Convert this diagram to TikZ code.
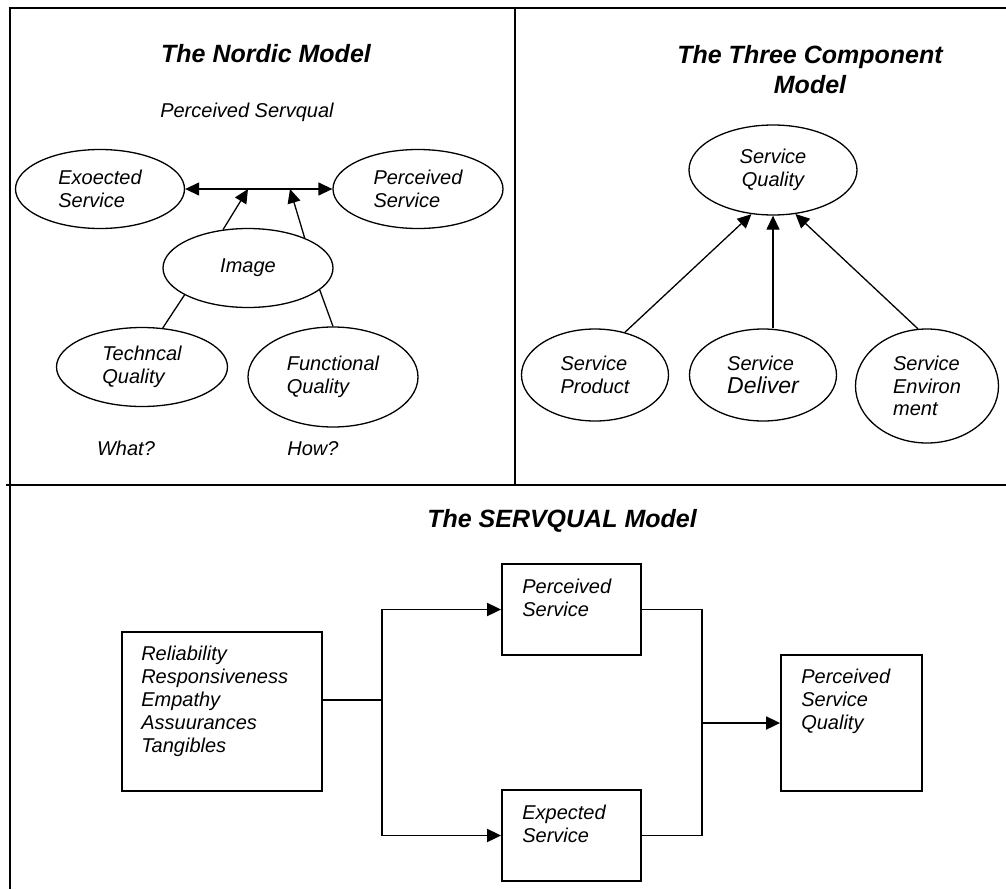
\documentclass[tikz,border=0pt]{standalone}
\usepackage{fontspec}
\setmainfont{Liberation Sans}
\usetikzlibrary{arrows.meta,shapes.geometric}

\tikzset{
  hd/.tip={Triangle[length=14pt,width=13pt]},
  lbl/.style={font=\fontsize{20}{23}\selectfont\itshape, inner sep=0pt},
  ttl/.style={font=\fontsize{25}{30}\selectfont\bfseries\itshape, inner sep=0pt, align=center},
  oval/.style={ellipse, draw, line width=1.3pt, inner sep=0pt, align=left,
               font=\fontsize{20}{22.5}\selectfont\itshape},
  box/.style={rectangle, draw, line width=1.8pt, inner sep=0pt},
  arr/.style={line width=1.3pt, -{hd}},
  link/.style={line width=1.3pt},
  conn/.style={line width=1.8pt},
  rule/.style={line width=2.6pt},
}

\begin{document}
\begin{tikzpicture}[x=1pt,y=-1pt]
  \fill[white] (0,0) rectangle (1006,889);
  \useasboundingbox (0,0) rectangle (1006,889);

  % panel frame
  \draw[rule] (8.9,8) -- (1006,8);
  \draw[line width=2.2pt] (10,7) -- (10,889);
  \draw[line width=1.8pt] (515,8) -- (515,485);
  \draw[rule] (6,485) -- (1006,485);

  % ---------------- Nordic model ----------------
  \node[ttl] (nordic) at (266,54) {The Nordic Model};
  \node[lbl, anchor=base] (pservq) at (247,117) {Perceived Servqual};

  \node[oval, minimum width=169pt, minimum height=79pt] (exs) at (100,189) {Exoected\\Service};
  \node[oval, minimum width=170pt, minimum height=79pt] (pcs) at (418,189) {Perceived\\Service};
  \node[oval, minimum width=170pt, minimum height=79pt] (img) at (248,268) {Image};
  \node[oval, minimum width=171pt, minimum height=79pt] (tq) at (142,367) {Techncal\\Quality};
  \node[oval, minimum width=170pt, minimum height=100pt] (fq) at (333,377) {Functional\\Quality};

  \node[lbl, anchor=base] (what) at (126,455) {What?};
  \node[lbl, anchor=base] (how) at (313,455) {How?};

  \draw[link, {hd}-{hd}] (exs.east) -- (pcs.west);
  \coordinate (t1) at (248,189);
  \coordinate (t2) at (290,189);
  \draw[arr] (img.123) -- (t1);
  \draw[arr] (img.28) -- (t2);
  \draw[link] (tq.62) -- (img.203);
  \draw[link] (fq.north) -- (img.343);

  % ---------------- Three component model ----------------
  \node[ttl] (three) at (810,70) {The Three Component\\Model};

  \node[oval, align=center, minimum width=168pt, minimum height=90pt] (sq) at (773,170) {Service\\Quality};
  \node[oval, minimum width=147pt, minimum height=92pt] (sp) at (595,375) {Service\\Product};
  \node[oval, minimum width=147pt, minimum height=92pt] (sd) at (763,375) {Service\\{\fontsize{23}{25}\selectfont Deliver}};
  \node[oval, minimum width=143pt, minimum height=114pt] (se) at (927,386) {Service\\Environ\\ment};

  \draw[arr] (sp.55) -- (sq.244);
  \draw[arr] (sd.north -| sq.south) -- (sq.south);
  \draw[arr] (se.99) -- (sq.297);

  % ---------------- SERVQUAL model ----------------
  \node[ttl] (servq) at (562,521) {The SERVQUAL Model};

  \node[box, minimum width=200pt, minimum height=159pt] (dims) at (222,711.5) {};
  \node[box, minimum width=139pt, minimum height=91pt] (psv) at (571.5,609.5) {};
  \node[box, minimum width=139pt, minimum height=91pt] (esv) at (571.5,835.5) {};
  \node[box, minimum width=141pt, minimum height=136pt] (psq) at (851.5,723) {};

  \node[lbl, align=left, anchor=north west] (dimst) at ([shift={(20,15)}]dims.north west)
    {Reliability\\Responsiveness\\Empathy\\Assuurances\\Tangibles};
  \node[lbl, align=left, anchor=north west] (psvt) at ([shift={(21,16)}]psv.north west)
    {Perceived\\Service};
  \node[lbl, align=left, anchor=north west] (esvt) at ([shift={(21,16)}]esv.north west)
    {Expected\\Service};
  \node[lbl, align=left, anchor=north west] (psqt) at ([shift={(21,15)}]psq.north west)
    {Perceived\\Service\\Quality};

  \coordinate (split) at (382,700);
  \coordinate (merge) at (702,723);
  \draw[conn] ([yshift=11.5pt]dims.east) -- (split);
  \draw[conn, -{hd}] (split) |- (psv.west);
  \draw[conn, -{hd}] (split) |- (esv.west);
  \draw[conn] (psv.east) -| (merge);
  \draw[conn] (esv.east) -| (merge);
  \draw[conn, -{hd}] (merge) -- (psq.west);
\end{tikzpicture}
\end{document}
